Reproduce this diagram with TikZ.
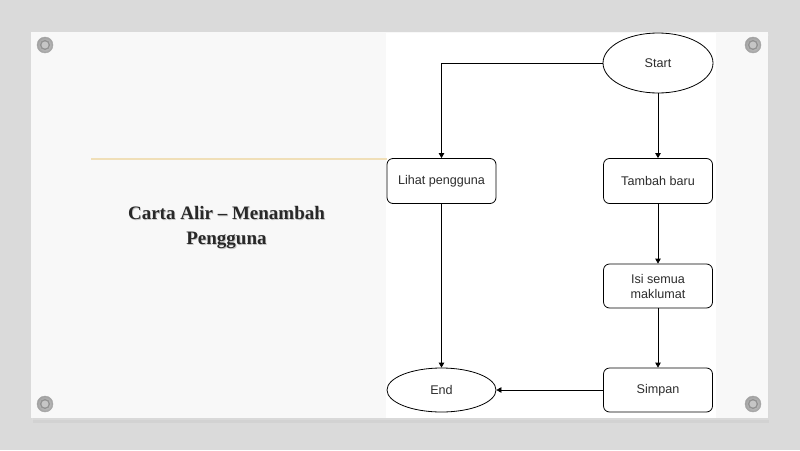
\documentclass[tikz,border=0pt]{standalone}
\usepackage{fontspec}
\setmainfont{Liberation Serif}
\newfontfamily\flowfont{Liberation Sans}
\usetikzlibrary{shapes.geometric,arrows.meta}
\definecolor{bggray}{RGB}{218,218,218}
\definecolor{cardwhite}{RGB}{248,248,248}
\definecolor{rulegold}{RGB}{240,223,184}
\definecolor{titlegray}{RGB}{40,40,40}
\definecolor{flowtext}{RGB}{45,45,45}
\begin{document}
\begin{tikzpicture}[x=1pt,y=-1pt,
  procbox/.style={draw=black, line width=0.8pt, rounded corners=6pt, minimum width=109pt, minimum height=45pt, inner sep=2pt,
    font=\flowfont\fontsize{12.6}{15}\selectfont, text=flowtext, align=center, fill=white},
  termnode/.style={draw=black, line width=0.8pt, ellipse, inner sep=0pt, fill=white,
    font=\flowfont\fontsize{12.6}{15}\selectfont, text=flowtext},
  flow/.style={-{Triangle[length=5pt,width=5.5pt]}, line width=0.8pt},
  titletext/.style={font=\bfseries\fontsize{19}{25}\selectfont, align=center}
]
\useasboundingbox (0,0) rectangle (800,450);
% background
\fill[bggray] (0,0) rectangle (800,450);
% card shadow
\fill[black!20, opacity=0.5] (33,36) rectangle (769,423);
\fill[black!12, opacity=0.5] (32,34) rectangle (769,420);
% card
\fill[cardwhite] (31,32) rectangle (768,418);
% white flowchart area
\fill[white] (386,33) rectangle (716,418);
% gold rule
\draw[rulegold, line width=1.6pt] (91,159) -- (387,159);
% title with shadow
\node[titletext, text=black!22] at (227.3,228.8) {Carta Alir -- Menambah\\Pengguna};
\node[titletext, text=titlegray] (title) at (226.5,228) {Carta Alir -- Menambah\\Pengguna};
% screws
\foreach \sx/\sy in {45/45, 753/45, 45/404, 753/404} {
  \shade[inner color=gray!30, outer color=gray!75] (\sx,\sy) circle (8);
  \draw[gray!70, line width=0.4pt] (\sx,\sy) circle (8);
  \draw[gray!85, line width=1.5pt] (\sx,\sy) circle (4.3);
  \fill[gray!45] (\sx,\sy) circle (3.4);
}
% flowchart nodes
\node[termnode, minimum width=110pt, minimum height=60pt] (start) at (658,63) {Start};
\node[procbox] (lihat) at (441.5,181) {Lihat pengguna};
\node[procbox] (tambah) at (658,181) {Tambah baru};
\node[procbox, minimum height=44pt] (isi) at (658,286) {Isi semua\\maklumat};
\node[procbox, minimum height=44pt] (simpan) at (658,390) {Simpan};
\node[termnode, minimum width=109pt, minimum height=44pt] (endn) at (441.5,390) {End};
% connectors
\draw[flow] (start.west) -| (lihat.north);
\draw[flow] (start.south) -- (tambah.north);
\draw[flow] (tambah.south) -- (isi.north);
\draw[flow] (isi.south) -- (simpan.north);
\draw[flow] (simpan.west) -- (endn.east);
\draw[flow] (lihat.south) -- (endn.north);
\end{tikzpicture}
\end{document}
